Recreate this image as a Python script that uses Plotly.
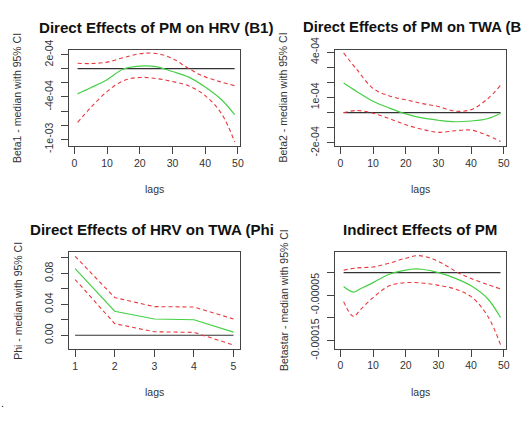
import plotly.graph_objects as go

W, H = 523, 422

# ---------------- data ----------------
# Panel 1: Direct effects of PM on HRV (Beta1)
p1_lags = [1, 5, 10, 15, 20, 25, 30, 35, 40, 45, 49]
p1_med = [-3.56e-4, -2.7e-4, -1.56e-4, -0.05e-4, 0.36e-4, 0.3e-4, -0.4e-4, -1.2e-4, -2.6e-4, -4.4e-4, -6.5e-4]
p1_up = [0.76e-4, 0.72e-4, 0.93e-4, 1.56e-4, 2.1e-4, 2.15e-4, 1.45e-4, 0.0, -1.16e-4, -1.9e-4, -2.4e-4]
p1_lo = [-7.6e-4, -5.5e-4, -3.24e-4, -1.7e-4, -1.24e-4, -1.4e-4, -1.82e-4, -2.44e-4, -3.8e-4, -6.36e-4, -10.36e-4]

# Panel 2: Direct effects of PM on TWA (Beta2)
p2_lags = [1, 5, 10, 15, 20, 25, 30, 35, 40, 45, 49]
p2_med = [1.96e-4, 1.4e-4, 0.75e-4, 0.3e-4, -0.08e-4, -0.35e-4, -0.5e-4, -0.6e-4, -0.55e-4, -0.4e-4, -0.04e-4]
p2_up = [3.94e-4, 2.85e-4, 1.6e-4, 1.1e-4, 0.85e-4, 0.6e-4, 0.4e-4, 0.1e-4, 0.2e-4, 0.9e-4, 1.8e-4]
p2_lo = [0.0, 0.14e-4, -0.04e-4, -0.4e-4, -0.8e-4, -1.1e-4, -1.3e-4, -1.2e-4, -1.15e-4, -1.5e-4, -1.9e-4]

# Panel 3: Direct effects of HRV on TWA (Phi)
p3_lags = [1, 2, 3, 4, 5]
p3_med = [0.086, 0.031, 0.021, 0.020, 0.004]
p3_up = [0.102, 0.0487, 0.037, 0.0365, 0.021]
p3_lo = [0.072, 0.015, 0.0045, 0.0037, -0.0126]

# Panel 4: Indirect effects of PM (Betastar)
p4_lags_med = [1, 4, 6, 10, 15, 20, 23, 25, 30, 35, 40, 45, 49]
p4_med = [-3.06e-5, -4.3e-5, -3.6e-5, -2.2e-5, -0.35e-5, 0.56e-5, 0.83e-5, 0.75e-5, 0.0, -1.2e-5, -2.9e-5, -5.7e-5, -9.9e-5]
p4_lags_up = [1, 5, 10, 15, 20, 24, 28, 32, 36, 40, 45, 49]
p4_up = [0.56e-5, 1.04e-5, 1.25e-5, 2.1e-5, 3.2e-5, 3.75e-5, 3.1e-5, 1.7e-5, 0.0, -1.3e-5, -2.6e-5, -3.6e-5]
p4_lags_lo = [1, 4, 6, 10, 15, 20, 25, 30, 35, 40, 45, 49]
p4_lo = [-6.4e-5, -9.65e-5, -8.3e-5, -5.5e-5, -2.9e-5, -2.2e-5, -2.3e-5, -2.8e-5, -3.6e-5, -5.3e-5, -9.5e-5, -15.9e-5]

titles = ["Direct Effects of PM on HRV (B1)", "Direct Effects of PM on TWA (B",
          "Direct Effects of HRV on TWA (Phi", "Indirect Effects of PM"]
ytitles = ["Beta1 - median with 95% CI", "Beta2 - median with 95% CI",
           "Phi - median with 95% CI", "Betastar - median with 95% CI"]
xtitle = "lags"

y1_ticks = [2e-4, 0, -2e-4, -4e-4, -6e-4, -8e-4, -1e-3]
y1_text = ["2e-04", "", "", "-4e-04", "", "", "-1e-03"]
y2_ticks = [4e-4, 3e-4, 2e-4, 1e-4, 0, -1e-4, -2e-4]
y2_text = ["4e-04", "", "", "1e-04", "", "", "-2e-04"]
y3_ticks = [0.10, 0.08, 0.06, 0.04, 0.02, 0.0]
y3_text = ["", "0.08", "", "0.04", "", "0.00"]
y4_ticks = [0, -5e-5, -1e-4, -1.5e-4]
y4_text = ["", "-0.00005", "", "-0.00015"]
x_ticks = [0, 10, 20, 30, 40, 50]
x3_ticks = [1, 2, 3, 4, 5]

# ---------------- layout helpers ----------------
FONT = "Liberation Sans, Arial, sans-serif"
GREEN = "#45d045"
RED = "#e8383d"
BLACK = "#333333"
TXT = "#333333"

# plot boxes in pixels: (left, right, top, bottom)
boxes = [(69.3, 241.7, 39.0, 141.0), (337.7, 510.0, 39.3, 141.0),
         (69.3, 241.7, 253.7, 356.3), (337.7, 510.0, 253.7, 356.0)]


def px_x(x):
    return x / W


def px_y(y):
    return 1 - y / H


fig = go.Figure()

panels = [
    dict(x=[p1_lags] * 3, ys=[p1_med, p1_up, p1_lo], zero=[1, 49], shape="spline",
         yr=[-1.093e-3, 2.67e-4], yt=y1_ticks, ytt=y1_text, xr=[-1.7, 50.6], xt=x_ticks),
    dict(x=[p2_lags] * 3, ys=[p2_med, p2_up, p2_lo], zero=[1, 49], shape="spline",
         yr=[-2.2e-4, 4.13e-4], yt=y2_ticks, ytt=y2_text, xr=[-1.6, 50.7], xt=x_ticks),
    dict(x=[p3_lags] * 3, ys=[p3_med, p3_up, p3_lo], zero=[1, 5], shape="linear",
         yr=[-0.0178, 0.1072], yt=y3_ticks, ytt=y3_text, xr=[0.84, 5.16], xt=x3_ticks),
    dict(x=[p4_lags_med, p4_lags_up, p4_lags_lo], ys=[p4_med, p4_up, p4_lo], zero=[1, 49],
         shape="spline", yr=[-1.68e-4, 4.5e-5], yt=y4_ticks, ytt=y4_text, xr=[-1.6, 50.7],
         xt=x_ticks),
]

annotations = []
for i, (p, box) in enumerate(zip(panels, boxes)):
    n = i + 1
    xa = "x" if n == 1 else f"x{n}"
    ya = "y" if n == 1 else f"y{n}"
    # zero reference line
    fig.add_trace(go.Scatter(x=p["zero"], y=[0, 0], xaxis=xa, yaxis=ya, mode="lines",
                             line=dict(color=BLACK, width=1.1), showlegend=False,
                             hoverinfo="skip"))
    for k, (xs, ys) in enumerate(zip(p["x"], p["ys"])):
        if k == 0:
            line = dict(color=GREEN, width=1.2, shape=p["shape"])
        else:
            line = dict(color=RED, width=1.1, dash="4px,3px", shape=p["shape"])
        fig.add_trace(go.Scatter(x=xs, y=ys, xaxis=xa, yaxis=ya, mode="lines",
                                 line=line, showlegend=False))

    l, r, t, b = box
    axcommon = dict(showline=True, mirror=True, linecolor="#444444", linewidth=1,
                    ticks="outside", ticklen=7, tickcolor="#444444", tickwidth=1,
                    showgrid=False, zeroline=False,
                    tickfont=dict(family=FONT, size=10.5, color=TXT))
    fig.update_layout(**{
        ("xaxis" if n == 1 else f"xaxis{n}"): dict(
            domain=[px_x(l), px_x(r)], anchor=ya, range=p["xr"],
            tickmode="array", tickvals=p["xt"], ticktext=[str(v) for v in p["xt"]],
            ticklabelstandoff=0, **axcommon),
        ("yaxis" if n == 1 else f"yaxis{n}"): dict(
            domain=[px_y(b), px_y(t)], anchor=xa, range=p["yr"],
            tickmode="array", tickvals=p["yt"], ticktext=p["ytt"], tickangle=-90,
            ticklabelstandoff=4, **axcommon),
    })

    cx = (l + r) / 2
    cy = (t + b) / 2
    # x axis title
    annotations.append(dict(text=xtitle, x=px_x(cx), y=px_y(b + 45.5), xref="paper",
                            yref="paper", showarrow=False, xanchor="center", yanchor="middle",
                            font=dict(family=FONT, size=10.5, color=TXT)))
    # y axis title
    annotations.append(dict(text=ytitles[i], x=px_x(l - 52), y=px_y(cy), xref="paper",
                            yref="paper", showarrow=False, xanchor="center", yanchor="middle",
                            textangle=-90, font=dict(family=FONT, size=10.5, color=TXT)))

# panel titles (positions as seen in the reference)
title_pos = [(37.3, 15, "left", 15.1), (303.0, 15, "left", 14.8),
             (28.3, 230, "left", 15.1), (423.0, 230, "center", 15.1)]
for txt, (tx, ty, anc, fs) in zip(titles, title_pos):
    annotations.append(dict(text=f"<b>{txt}</b>", x=px_x(tx), y=px_y(ty), xref="paper",
                            yref="paper", showarrow=False, xanchor=anc, yanchor="middle",
                            font=dict(family=FONT, size=fs, color="#111111")))

# stray dot at the bottom-left of the reference image
annotations.append(dict(text=".", x=px_x(3), y=px_y(414), xref="paper", yref="paper",
                        showarrow=False, xanchor="center", yanchor="middle",
                        font=dict(family=FONT, size=11, color="#111111")))

fig.update_layout(width=W, height=H, margin=dict(l=0, r=0, t=0, b=0), autosize=False,
                  paper_bgcolor="white", plot_bgcolor="white", annotations=annotations,
                  showlegend=False)

fig.write_html("out.html")
